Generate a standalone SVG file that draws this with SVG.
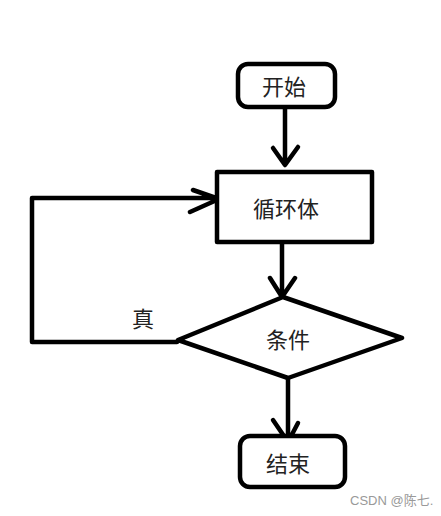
<svg xmlns="http://www.w3.org/2000/svg" width="441" height="516" viewBox="0 0 441 516">
<style>
.s{fill:none;stroke:#000;stroke-width:4.5;stroke-linecap:round;stroke-linejoin:round}
.n{fill:#fff;stroke:#000;stroke-width:4.5;stroke-linejoin:round}
.t{font-family:"Noto Sans CJK SC","Liberation Sans",sans-serif;font-size:22px;fill:#222;text-anchor:middle;dominant-baseline:central}
.w{font-family:"Liberation Sans","Noto Sans CJK SC",sans-serif;font-size:13px;fill:#999}
</style>
<rect width="441" height="516" fill="#fff"/>
<g id="connectors">
<path class="s" d="M285 107 V164 M273 148 L285 165 L298 147"/>
<path class="s" d="M282 242 V297 M270 278 L282 297 L295 278"/>
<path class="s" d="M288 378 V441 M273 420 L288 442 L298 423"/>
<path class="s" d="M177 342 H32 V198 H219 M193 190 L219 199 L190 212"/>
</g>
<g id="start"><rect class="n" x="238" y="64" width="97" height="43" rx="10"/><text class="t" x="284" y="85">开始</text></g>
<g id="loop"><rect class="n" x="217" y="172" width="155" height="70"/><text class="t" x="286" y="207">循环体</text></g>
<g id="cond"><polygon class="n" points="283,297 402,338 288,378 178,340"/><text class="t" x="288" y="338">条件</text></g>
<g id="end"><rect class="n" x="240" y="436" width="105" height="51" rx="10"/><text class="t" x="288" y="462">结束</text></g>
<text class="t" x="143" y="317">真</text>
<text class="w" x="350" y="505">CSDN @陈七.</text>
</svg>
